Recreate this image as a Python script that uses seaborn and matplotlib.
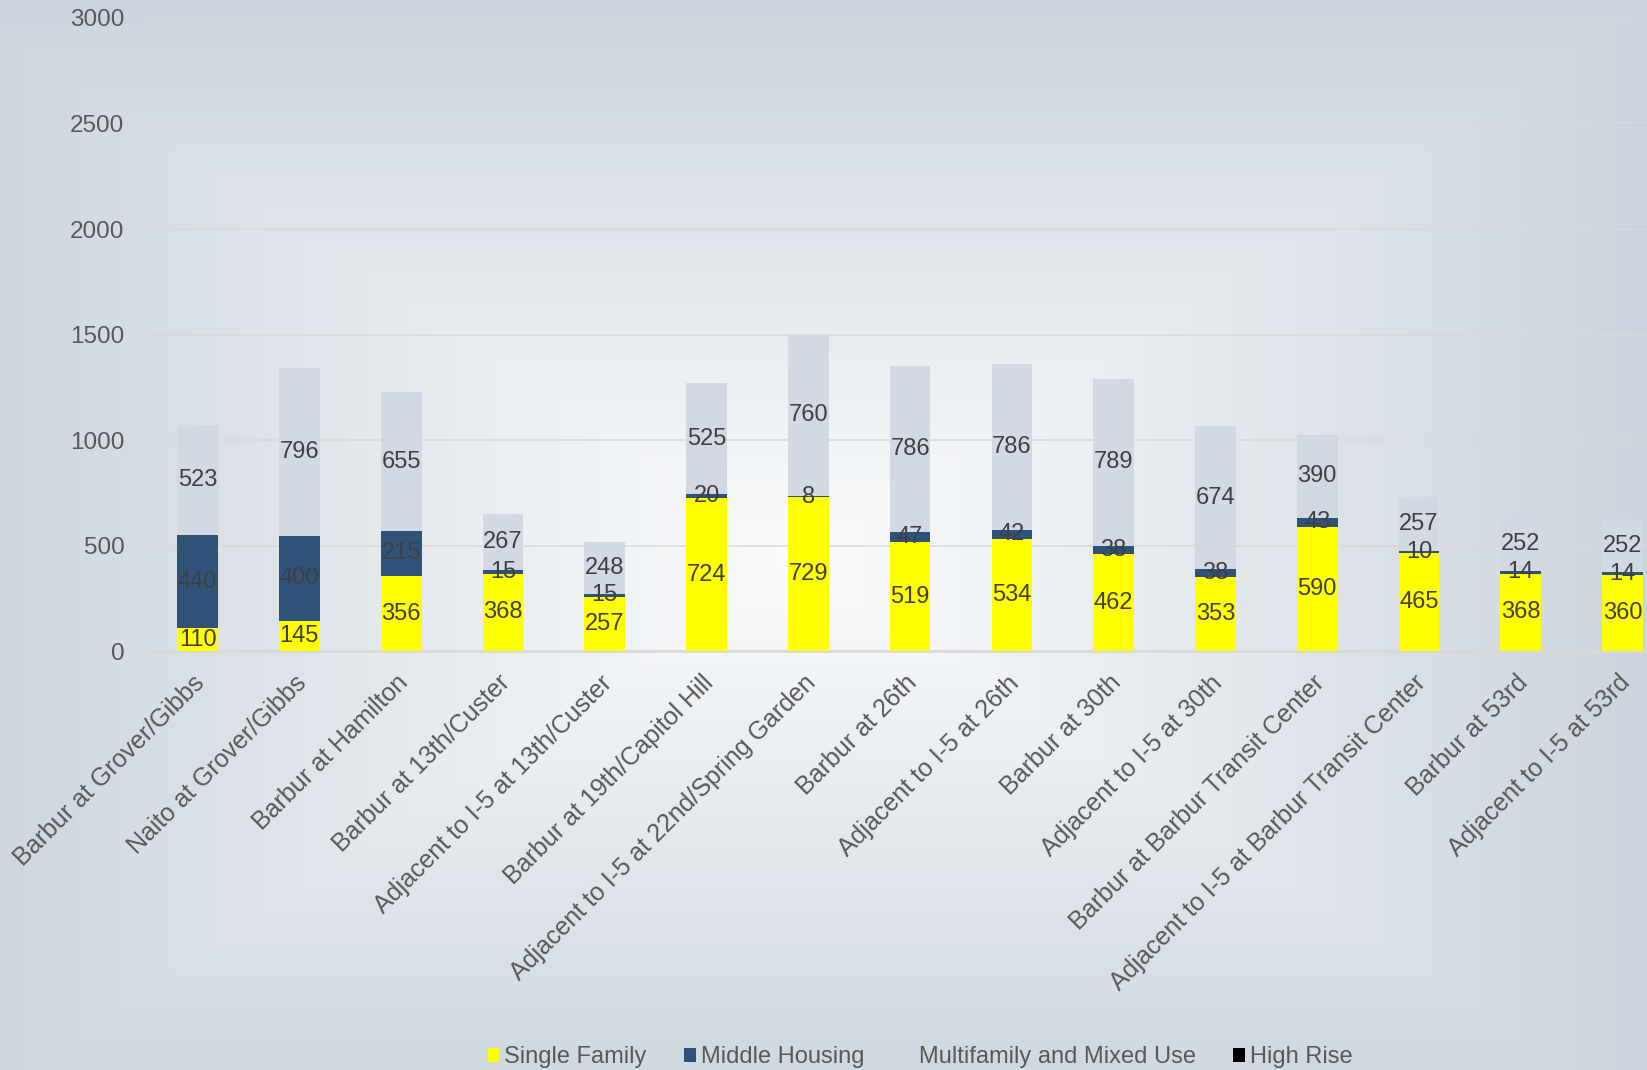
import numpy as np
import pandas as pd
import matplotlib
matplotlib.use("Agg")
import matplotlib.pyplot as plt
from matplotlib.patches import Patch
from matplotlib.transforms import ScaledTranslation
import seaborn as sns

# ---- data ----
locations = [
    "Barbur at Grover/Gibbs",
    "Naito at Grover/Gibbs",
    "Barbur at Hamilton",
    "Barbur at 13th/Custer",
    "Adjacent to I-5 at 13th/Custer",
    "Barbur at 19th/Capitol Hill",
    "Adjacent to I-5 at 22nd/Spring Garden",
    "Barbur at 26th",
    "Adjacent to I-5 at 26th",
    "Barbur at 30th",
    "Adjacent to I-5 at 30th",
    "Barbur at Barbur Transit Center",
    "Adjacent to I-5 at Barbur Transit Center",
    "Barbur at 53rd",
    "Adjacent to I-5 at 53rd",
]
single_family = [110, 145, 356, 368, 257, 724, 729, 519, 534, 462, 353, 590, 465, 368, 360]
middle_housing = [440, 400, 215, 15, 15, 20, 8, 47, 42, 38, 38, 43, 10, 14, 14]
multifamily = [523, 796, 655, 267, 248, 525, 760, 786, 786, 789, 674, 390, 257, 252, 252]
high_rise = [0, 0, 0, 0, 0, 0, 0, 0, 0, 0, 0, 0, 0, 0, 0]

series_names = ["Single Family", "Middle Housing", "Multifamily and Mixed Use", "High Rise"]
series_values = [single_family, middle_housing, multifamily, high_rise]
series_colors = ["#ffff00", "#2f5279", "#d2d9e2", "#000000"]

y_ticks = [0, 500, 1000, 1500, 2000, 2500, 3000]

# ---- style ----
sns.set_theme(style="white")
plt.rcParams["font.family"] = ["Liberation Sans", "DejaVu Sans"]
TICK_COLOR = "#595959"
LABEL_COLOR = "#404040"

W, H = 1647, 1070
fig = plt.figure(figsize=(W / 100, H / 100), dpi=100)

# rectangular radial-style background shading
bg = fig.add_axes([0, 0, 1, 1], zorder=-10)
yy, xx = np.mgrid[0:H, 0:W]
cx, cy = 800, 560
t = np.maximum(np.abs(xx - cx) / 850.0, np.abs(yy - cy) / 560.0)
t = np.clip(t, 0, 1)
c_in = np.array([0.984, 0.988, 0.992])
c_out = np.array([0.800, 0.834, 0.868])
img = c_in[None, None, :] * (1 - t[..., None]) + c_out[None, None, :] * t[..., None]
bg.imshow(img, aspect="auto", extent=[0, 1, 0, 1], origin="upper")
bg.set_axis_off()

ax = fig.add_axes([146.7 / W, 1 - 651.3 / H, 1 - 146.7 / W, (651.3 - 17.9) / H])
ax.set_facecolor("none")

bottom = np.zeros(len(locations))
for name, vals, color in zip(series_names, series_values, series_colors):
    vals = np.asarray(vals, dtype=float)
    sns.barplot(x=locations, y=vals, order=locations, color=color, saturation=1,
                width=0.4, bottom=bottom, ax=ax, linewidth=0, zorder=3)
    for i, (v, b) in enumerate(zip(vals, bottom)):
        if v > 0:
            ax.text(i, b + v / 2, f"{int(v)}", ha="center", va="center",
                    fontsize=17, color=LABEL_COLOR, zorder=5)
    bottom = bottom + vals

ax.set_xlim(-0.5, 14.24)
ax.set_ylim(0, 3000)
ax.set_yticks(y_ticks)
ax.set_yticklabels([str(v) for v in y_ticks])
ax.grid(axis="y", color="#d9d9d9", linewidth=1.1, zorder=0)
ax.grid(axis="x", visible=False)
ax.set_axisbelow(True)
for side in ["left", "right", "top"]:
    ax.spines[side].set_visible(False)
ax.spines["bottom"].set_color("#d9d9d9")
ax.spines["bottom"].set_linewidth(2)
ax.set_xlabel("")
ax.set_ylabel("")

ax.tick_params(axis="y", length=0, pad=16, labelsize=17.5, labelcolor=TICK_COLOR)
ax.tick_params(axis="x", length=0, pad=14, labelsize=18, labelcolor=TICK_COLOR)
shift = ScaledTranslation(-5 / 100, 0, fig.dpi_scale_trans)
for lbl in ax.get_xticklabels():
    lbl.set_rotation(45)
    lbl.set_ha("right")
    lbl.set_va("top")
    lbl.set_rotation_mode("anchor")
    lbl.set_transform(lbl.get_transform() + shift)

handles = [Patch(facecolor=c, edgecolor="none") for c in series_colors]
fig.legend(handles, series_names, loc="center", bbox_to_anchor=(0.5586, 0.012),
           ncol=4, frameon=False, fontsize=17, labelcolor=TICK_COLOR,
           handlelength=0.5, handleheight=0.55, handletextpad=0.2, columnspacing=1.6)

fig.savefig("out.png", dpi=100)
